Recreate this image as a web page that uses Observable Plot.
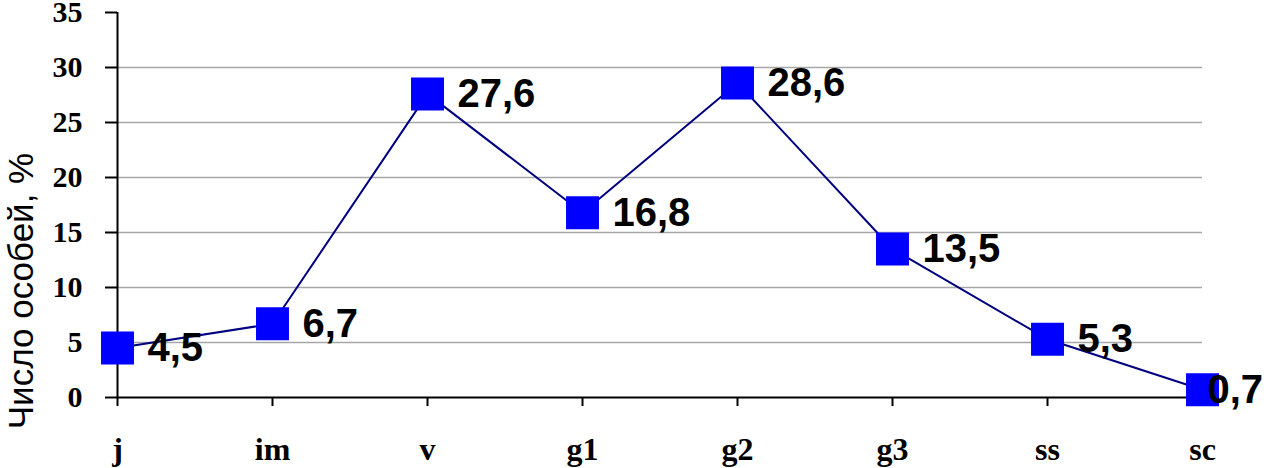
<!DOCTYPE html>
<html>
<head>
<meta charset="utf-8">
<script src="https://cdn.jsdelivr.net/npm/d3@7"></script>
<script src="https://cdn.jsdelivr.net/npm/@observablehq/plot@0.6"></script>
<style>
  html, body { margin: 0; padding: 0; background: #fff; }
  #chart svg { display: block; }
</style>
</head>
<body>
<div id="chart"></div>
<script>
const categories = ["j", "im", "v", "g1", "g2", "g3", "ss", "sc"];
const values = [4.5, 6.7, 27.6, 16.8, 28.6, 13.5, 5.3, 0.7];
const yTicks = [0, 5, 10, 15, 20, 25, 30, 35];
const gridTicks = [5, 10, 15, 20, 25, 30];
const yTitle = "Число особей, %";

const data = categories.map((c, i) => ({
  cat: c,
  val: values[i],
  label: values[i].toFixed(1).replace(".", ",")
}));
const mainLabels = data.slice(0, data.length - 1);
const lastLabel = data.slice(data.length - 1);

const chart = Plot.plot({
  width: 1264,
  height: 468,
  marginLeft: 117,
  marginRight: 62,
  marginTop: 12,
  marginBottom: 71,
  style: { background: "#fff", overflow: "visible" },
  x: { type: "point", domain: categories, padding: 0 },
  y: { domain: [0, 35] },
  marks: [
    Plot.gridY(gridTicks, { stroke: "#a6a6a6", strokeOpacity: 1, strokeWidth: 1.5 }),
    Plot.axisY(yTicks, {
      tickSize: 12,
      tickPadding: 23,
      stroke: "#000",
      strokeWidth: 2,
      fontSize: 30,
      fontWeight: "bold",
      fontFamily: "'Liberation Serif', 'Times New Roman', serif",
      fill: "#000",
      label: null
    }),
    Plot.axisX({
      tickSize: 9,
      tickPadding: 31,
      stroke: "#000",
      strokeWidth: 2,
      fontSize: 32,
      fontWeight: "bold",
      fontFamily: "'Liberation Serif', 'Times New Roman', serif",
      fill: "#000",
      label: null
    }),
    Plot.ruleX([categories[0]], { y1: 0, y2: 35, stroke: "#000", strokeWidth: 2 }),
    Plot.ruleY([0], { stroke: "#000", strokeWidth: 2 }),
    Plot.line(data, { x: "cat", y: "val", stroke: "#000080", strokeWidth: 2 }),
    Plot.dot(data, { x: "cat", y: "val", symbol: "square", r: 18.6, fill: "#0000ff", stroke: "none" }),
    Plot.text(mainLabels, {
      x: "cat", y: "val", text: "label",
      dx: 30, textAnchor: "start",
      fontSize: 40, fontWeight: "bold",
      fontFamily: "'Liberation Sans', Arial, sans-serif",
      fill: "#000"
    }),
    Plot.text(lastLabel, {
      x: "cat", y: "val", text: "label",
      dx: 5, textAnchor: "start",
      fontSize: 40, fontWeight: "bold",
      fontFamily: "'Liberation Sans', Arial, sans-serif",
      fill: "#000"
    }),
    Plot.text([yTitle], {
      text: d => d,
      frameAnchor: "left",
      textAnchor: "middle",
      rotate: -90,
      dx: -96,
      dy: 86,
      fontSize: 35,
      fontFamily: "'Liberation Sans', Arial, sans-serif",
      fill: "#000"
    })
  ]
});
document.getElementById("chart").appendChild(chart);
</script>
</body>
</html>
